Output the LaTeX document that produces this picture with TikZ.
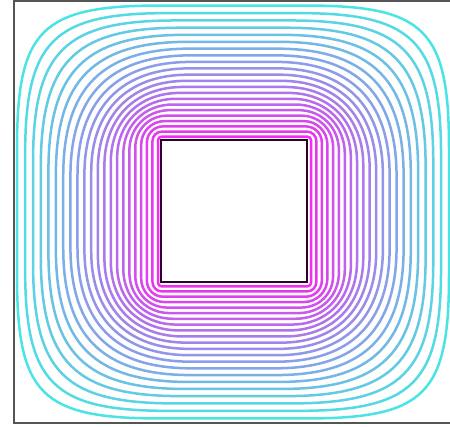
\documentclass[tikz,border=0pt]{standalone}
\definecolor{inc}{RGB}{240,45,240}
\definecolor{outc}{RGB}{75,228,228}
\definecolor{boxc}{RGB}{85,85,85}
\definecolor{sqc}{RGB}{45,0,45}
\tikzset{contour/.style={line width=2.5pt},
  frame/.style={draw=boxc,line width=2pt},
  innersq/.style={draw=sqc,fill=white,line width=2.2pt}}
\begin{document}
\begin{tikzpicture}[x=1pt,y=-1pt]
\useasboundingbox (0,0) rectangle (450,427);
\clip (0,0) rectangle (450,427);
\fill[white] (0,0) rectangle (450,427);
\foreach \k in {1,...,22}{
  \pgfmathsetmacro\u{(\k-1)/21}
  \pgfmathsetmacro\g{(pow(1.5,\u)-1)/0.5}
  \pgfmathsetmacro\d{3.5+139.5*\g}
  \pgfmathsetmacro\cx{234.5-1.5*\u}
  \pgfmathsetmacro\cy{211.5+0.5*\u}
  \pgfmathsetmacro\ax{73+\d}
  \pgfmathsetmacro\by{71.5+\d*0.9437}
  \pgfmathsetmacro\sf{1+0.4*sin(180*\u)}
  \pgfmathsetmacro\kap{0.552+0.28*pow(\u,2)}
  \pgfmathsetmacro\RR{min(\d*\sf,0.98*\by)}
  \pgfmathsetmacro\mm{\RR*(1-\kap)}
  \pgfmathsetmacro\xl{\cx-\ax}
  \pgfmathsetmacro\xr{\cx+\ax}
  \pgfmathsetmacro\yt{\cy-\by}
  \pgfmathsetmacro\yb{\cy+\by}
  \pgfmathsetmacro\pc{100*\u}
  \colorlet{ck}{outc!\pc!inc}
  \draw[contour,color=ck]
    (\xl,\yt+\RR) .. controls (\xl,\yt+\mm) and (\xl+\mm,\yt) .. (\xl+\RR,\yt)
    -- (\xr-\RR,\yt) .. controls (\xr-\mm,\yt) and (\xr,\yt+\mm) .. (\xr,\yt+\RR)
    -- (\xr,\yb-\RR) .. controls (\xr,\yb-\mm) and (\xr-\mm,\yb) .. (\xr-\RR,\yb)
    -- (\xl+\RR,\yb) .. controls (\xl+\mm,\yb) and (\xl,\yb-\mm) .. (\xl,\yb-\RR)
    -- cycle;
}
\draw[frame] (14,1) rectangle (460,423);
\draw[innersq] (161,140) rectangle (307,282);
\end{tikzpicture}
\end{document}
